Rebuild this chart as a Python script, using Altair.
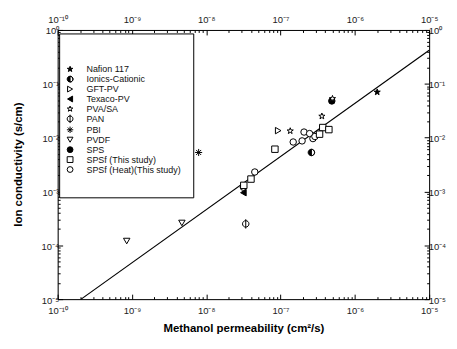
import altair as alt
import pandas as pd

# ---------------- data ----------------
legend_order = ["Nafion 117", "Ionics-Cationic", "GFT-PV", "Texaco-PV", "PVA/SA",
                "PAN", "PBI", "PVDF", "SPS", "SPSf (This study)", "SPSf (Heat)(This study)"]

pt_series = ["Nafion 117",
             "SPS", "PVA/SA", "PVA/SA", "PVA/SA",
             "GFT-PV",
             "SPSf (Heat)(This study)", "SPSf (Heat)(This study)", "SPSf (Heat)(This study)",
             "SPSf (Heat)(This study)", "SPSf (Heat)(This study)", "SPSf (Heat)(This study)",
             "SPSf (Heat)(This study)", "SPSf (Heat)(This study)",
             "SPSf (This study)", "SPSf (This study)", "SPSf (This study)",
             "SPSf (This study)", "SPSf (This study)", "SPSf (This study)",
             "Ionics-Cationic", "PBI", "Texaco-PV", "PVDF", "PVDF", "PAN"]
pt_x = [2.0e-6,
        4.9e-7, 5.0e-7, 3.6e-7, 1.35e-7,
        9.3e-8,
        2.07e-7, 2.46e-7, 2.73e-7, 1.48e-7, 1.95e-7, 4.5e-8, 3.16e-8, 2.9e-7,
        3.7e-7, 4.47e-7, 3.35e-7, 8.4e-8, 4.0e-8, 3.2e-8,
        2.6e-7, 7.9e-9, 3.16e-8, 8.5e-10, 4.7e-9, 3.4e-8]
pt_y = [0.07,
        0.048, 0.053, 0.025, 0.0133,
        0.0135,
        0.0127, 0.0119, 0.0096, 0.0083, 0.0087, 0.0023, 0.0012, 0.0105,
        0.0154, 0.0141, 0.0116, 0.0061, 0.0017, 0.0013,
        0.0053, 0.0053, 0.00095, 1.2e-4, 2.6e-4, 2.5e-4]

fit_x = [2.07e-10, 1e-5]
fit_y = [1e-5, 0.42]

x_decades = [1e-10, 1e-9, 1e-8, 1e-7, 1e-6, 1e-5]
y_decades = [1e-5, 1e-4, 1e-3, 1e-2, 1e-1, 1e0]
x_minor = [k * 10.0 ** e for e in range(-10, -5) for k in range(2, 10)]
y_minor = [k * 10.0 ** e for e in range(-5, 0) for k in range(2, 10)]

# ---------------- styling ----------------
STAR = ("M0,-1L0.235,-0.324L0.951,-0.309L0.38,0.124L0.588,0.809L0,0.4"
        "L-0.588,0.809L-0.38,0.124L-0.951,-0.309L-0.235,-0.324Z")
HALF = "M-1,0A1,1,0,1,1,1,0A1,1,0,1,1,-1,0ZM0,1A1,1,0,0,0,0,-1Z"
PHI = "M-1,0A1,1,0,1,1,1,0A1,1,0,1,1,-1,0ZM0,-1.45L0,1.45"
AST = "M0,-1.1L0,1.1M-1.1,0L1.1,0M-0.78,-0.78L0.78,0.78M-0.78,0.78L0.78,-0.78"

shapes = [STAR, HALF, "triangle-right", "triangle-left", STAR, PHI, AST,
          "triangle-down", "circle", "square", "circle"]
fills = ["black", "black", "white", "black", "white", "white", "white",
         "white", "black", "white", "white"]
strokes = ["black"] * len(legend_order)

SUP = {"0": "\u2070", "1": "\u00b9", "2": "\u00b2", "3": "\u00b3", "4": "\u2074",
       "5": "\u2075", "6": "\u2076", "7": "\u2077", "8": "\u2078", "9": "\u2079"}


def sup(e):
    s = "\u207b" if e < 0 else ""
    return s + "".join(SUP[d] for d in str(abs(e)))


E = "round(log(datum.value)/LN10)"
label_expr = " : ".join(f"{E} == {e} ? '10{sup(e)}'" for e in range(-10, 1)) + " : ''"

FONT = "Liberation Sans"

xs = alt.Scale(type="log", domain=[1e-10, 1e-5], nice=False)
ys = alt.Scale(type="log", domain=[1e-5, 1], nice=False)


def major(orient, title=None, **kw):
    horiz = orient in ("top", "bottom")
    vals = x_decades if horiz else y_decades
    return alt.Axis(orient=orient, values=vals, labelExpr=label_expr, tickSize={"expr": "-5"},
                    labelPadding=11 if horiz else 4,
                    labelOffset=0 if horiz else 1,
                    grid=False, title=title,
                    labelFont=FONT, labelFontSize=9.5,
                    labelColor="#222", tickColor="black", domainColor="black",
                    labelFlush=False, labelOverlap=False, **kw)


def minor(orient):
    vals = x_minor if orient in ("top", "bottom") else y_minor
    return alt.Axis(orient=orient, values=vals, labels=False, tickSize={"expr": "-2.5"},
                    domain=False, grid=False, title=None, tickColor="black")


pts = pd.DataFrame({"x": pt_x, "y": pt_y, "series": pt_series})
fit = pd.DataFrame({"x": fit_x, "y": fit_y})
one = pd.DataFrame({"a": [0]})

box = alt.Chart(one).mark_rect(fill="white", stroke="black", strokeWidth=1).encode(
    x=alt.value(2), x2=alt.value(137), y=alt.value(4), y2=alt.value(169))

line = alt.Chart(fit).mark_line(color="black", strokeWidth=1.2).encode(
    x=alt.X("x:Q", scale=xs, axis=major(
        "bottom", "Methanol permeability (cm\u00b2/s)",
        titleFont=FONT, titleFontSize=11.5, titleFontWeight="bold",
        titleY=30, titleBaseline="middle")),
    y=alt.Y("y:Q", scale=ys, axis=major(
        "left", "Ion conductivity (s/cm)",
        titleFont=FONT, titleFontSize=11.5, titleFontWeight="bold",
        titleX=-39, titleY=135, titleAngle=270, titleAlign="center",
        titleBaseline="middle")),
)

leg = alt.Legend(orient="none", legendX=8, legendY=35, title=None, labelFont=FONT,
                 labelFontSize=9, labelColor="#111",
                 symbolStrokeWidth=1, symbolSize=34, rowPadding={"expr": "-2.2"},
                 labelOffset=12, padding=0, labelLimit=200)

points = alt.Chart(pts).mark_point(strokeWidth=1, opacity=1,
                                   fillOpacity=1, size=42).encode(
    x=alt.X("x:Q", scale=xs, axis=minor("bottom")),
    y=alt.Y("y:Q", scale=ys, axis=minor("left")),
    shape=alt.Shape("series:N", scale=alt.Scale(domain=legend_order, range=shapes), legend=leg),
    fill=alt.Fill("series:N", scale=alt.Scale(domain=legend_order, range=fills), legend=leg),
    stroke=alt.Stroke("series:N", scale=alt.Scale(domain=legend_order, range=strokes), legend=leg),
)

mirror_major = alt.Chart(fit).mark_point(opacity=0).encode(
    x=alt.X("x:Q", scale=xs, axis=major("top")),
    y=alt.Y("y:Q", scale=ys, axis=major("right")),
)
mirror_minor = alt.Chart(fit).mark_point(opacity=0).encode(
    x=alt.X("x:Q", scale=xs, axis=minor("top")),
    y=alt.Y("y:Q", scale=ys, axis=minor("right")),
)

chart = alt.layer(box, line, points, mirror_major, mirror_minor).resolve_axis(
    x="independent", y="independent"
).properties(
    width=374, height=271,
    padding={"left": 50, "top": 21, "right": 20, "bottom": 37},
    autosize=alt.AutoSizeParams(type="none"),
).configure_view(stroke="black", strokeWidth=1).configure(background="white")

chart.save("out.html", embed_options={"renderer": "svg", "actions": False})
